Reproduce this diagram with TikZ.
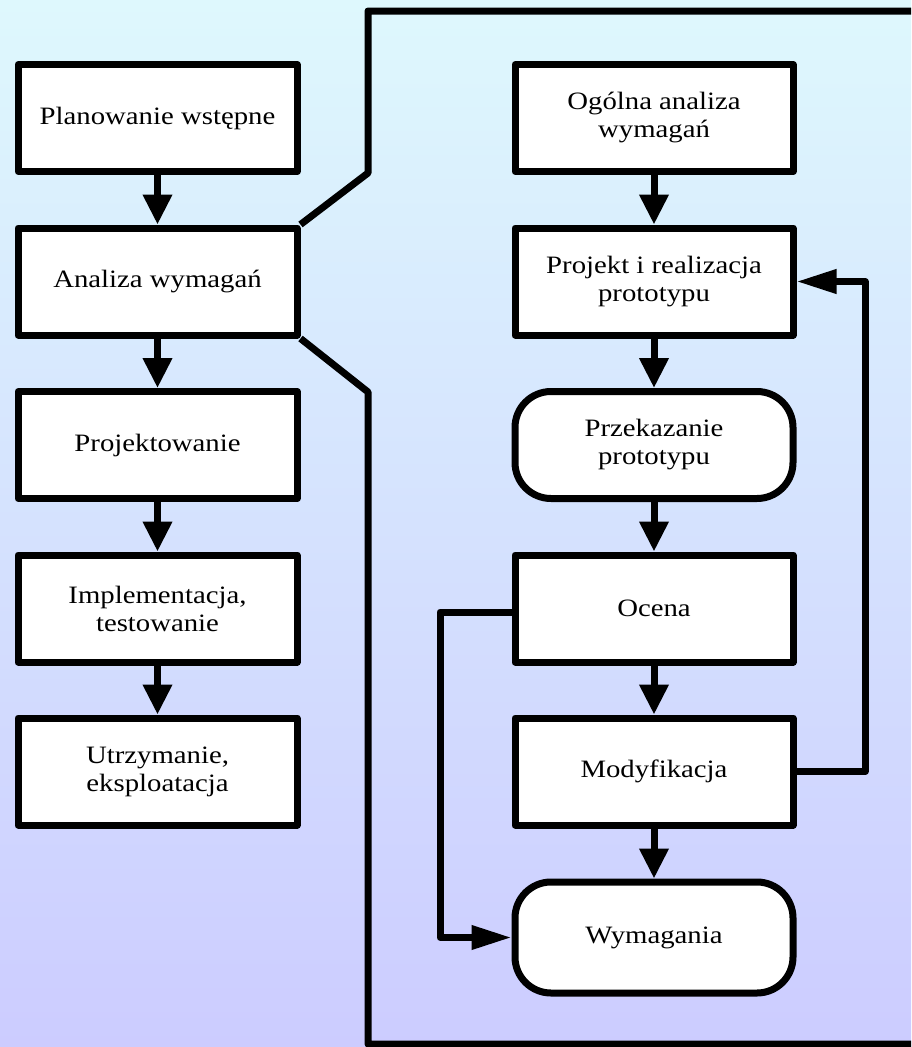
\documentclass[tikz,border=0pt]{standalone}
\usepackage{fontspec}
\setmainfont{Liberation Serif}[FakeStretch=1.15]
\usetikzlibrary{arrows.meta}
\definecolor{bgtop}{RGB}{222,248,253}
\definecolor{bgbot}{RGB}{204,204,255}
\tikzset{
  box/.style={draw=black, fill=white, line width=7pt, line join=round, inner sep=0pt,
    minimum width=279pt, minimum height=107pt, align=center,
    font=\fontsize{25}{28}\selectfont},
  rbox/.style={box, rounded corners=36pt},
  conn/.style={line width=7pt, line join=round},
  varr/.style={conn, -{Triangle[length=30pt,width=28pt]}},
  harr/.style={conn, -{Triangle[length=40pt,width=23pt]}},
}
\begin{document}
\begin{tikzpicture}[x=1pt,y=-1pt]
\useasboundingbox (0,0) rectangle (911,1047);
\shade[top color=bgtop, bottom color=bgbot] (0,0) rectangle (911,1047);
\clip (0,0) rectangle (911,1047);
% left column
\node[box] (L1) at (157.5,118) {Planowanie wstępne};
\node[box] (L2) at (157.5,281.5) {Analiza wymagań};
\node[box] (L3) at (157.5,445) {Projektowanie};
\node[box] (L4) at (157.5,608.5) {Implementacja,\\testowanie};
\node[box] (L5) at (157.5,771.5) {Utrzymanie,\\eksploatacja};
% right column
\node[box, minimum width=278pt] (R1) at (654,118) {Ogólna analiza\\wymagań};
\node[box, minimum width=278pt] (R2) at (654,281.5) {Projekt i realizacja\\prototypu};
\node[rbox, minimum width=278pt] (R3) at (654,445) {Przekazanie\\prototypu};
\node[box, minimum width=278pt] (R4) at (654,608.5) {Ocena};
\node[box, minimum width=278pt] (R5) at (654,771.5) {Modyfikacja};
\node[rbox, minimum width=278pt, minimum height=111pt] (R6) at (654,937.5) {Wymagania};
% bracket
\coordinate (bu1) at (368,173);
\coordinate (bu2) at (368,11);
\coordinate (bu3) at (930,11);
\coordinate (bl1) at (368,392);
\coordinate (bl2) at (368,1044);
\coordinate (bl3) at (930,1044);
\draw[conn] (L2.north east) -- (bu1) -- (bu2) -- (bu3);
\draw[conn] (L2.south east) -- (bl1) -- (bl2) -- (bl3);
% vertical arrows
\draw[varr] (L1.south) -- (L2.north);
\draw[varr] (L2.south) -- (L3.north);
\draw[varr] (L3.south) -- (L4.north);
\draw[varr] (L4.south) -- (L5.north);
\draw[varr] (R1.south) -- (R2.north);
\draw[varr] (R2.south) -- (R3.north);
\draw[varr] (R3.south) -- (R4.north);
\draw[varr] (R4.south) -- (R5.north);
\draw[varr] (R5.south) -- (R6.north);
% feedback loops
\coordinate (fr) at (865,0);
\draw[harr] (R5.east) -- (R5.east -| fr) -- (R2.east -| fr) -- (R2.east);
\coordinate (fo) at (R4.west |- 0,612);
\coordinate (fl) at (440,0);
\draw[harr] (fo) -- (fo -| fl) -- (R6.west -| fl) -- (R6.west);
\end{tikzpicture}
\end{document}
